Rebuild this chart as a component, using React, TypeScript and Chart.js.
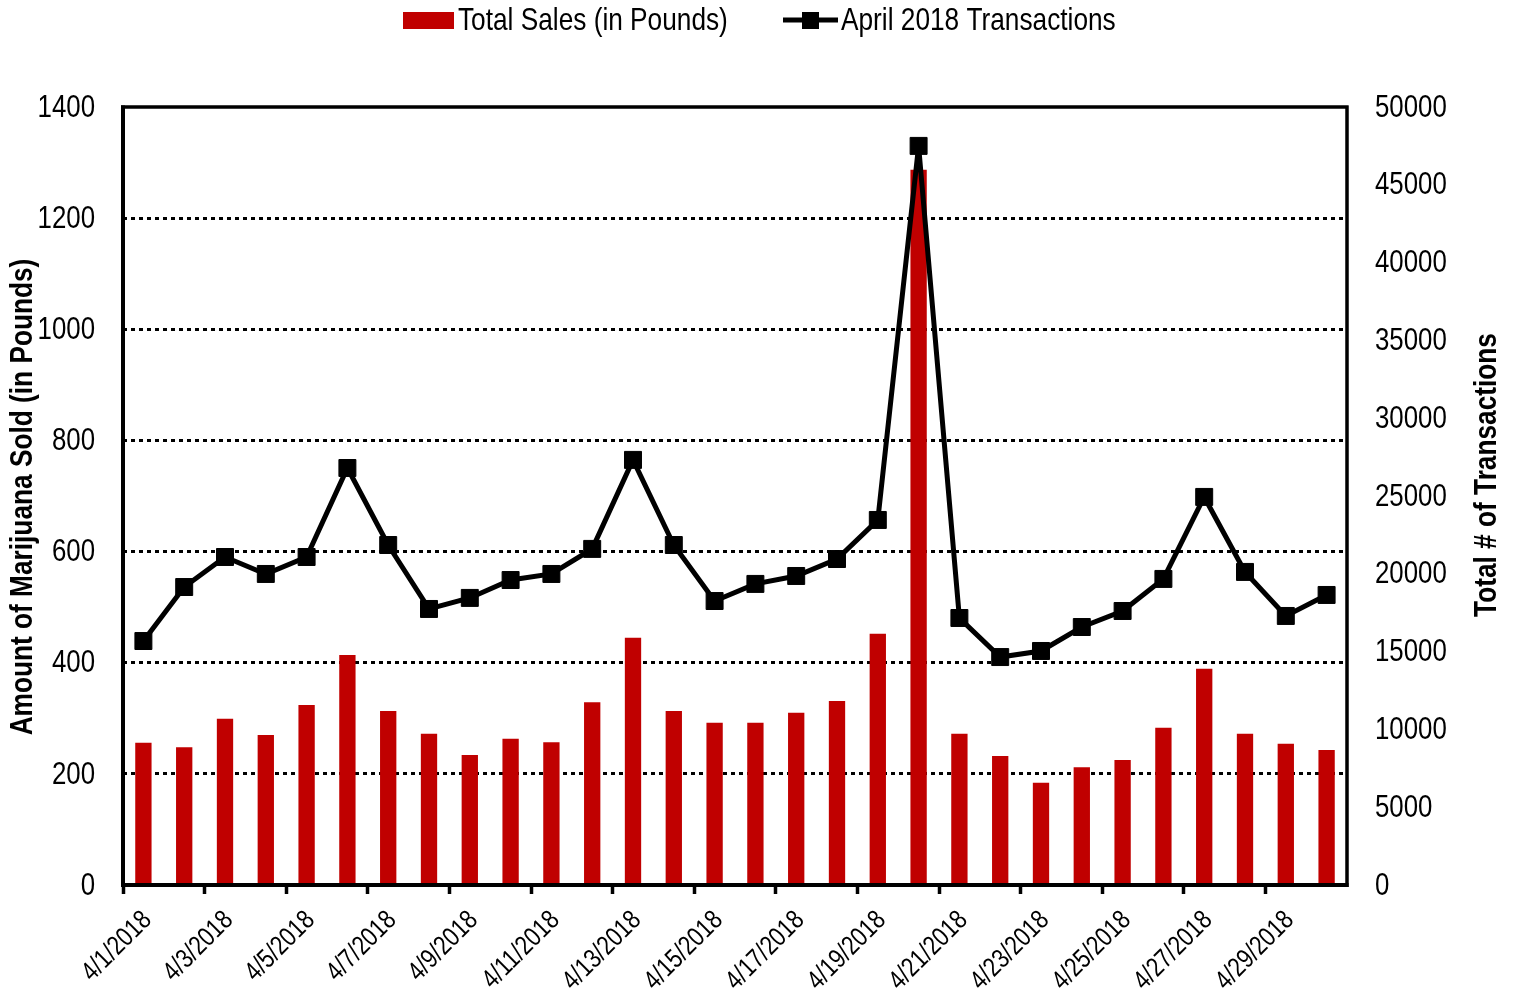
import React, { useEffect, useRef } from "react";
import { Chart, registerables } from "chart.js";

Chart.register(...registerables);

const dates = [
  "4/1/2018", "4/2/2018", "4/3/2018", "4/4/2018", "4/5/2018", "4/6/2018",
  "4/7/2018", "4/8/2018", "4/9/2018", "4/10/2018", "4/11/2018", "4/12/2018",
  "4/13/2018", "4/14/2018", "4/15/2018", "4/16/2018", "4/17/2018", "4/18/2018",
  "4/19/2018", "4/20/2018", "4/21/2018", "4/22/2018", "4/23/2018", "4/24/2018",
  "4/25/2018", "4/26/2018", "4/27/2018", "4/28/2018", "4/29/2018", "4/30/2018",
];

const salesPounds = [
  256, 248, 299, 270, 324, 414, 313, 272, 234, 263, 257, 329, 445, 313, 292,
  292, 310, 331, 452, 1287, 272, 232, 184, 212, 225, 283, 389, 272, 254, 243,
];

const transactions = [
  15680, 19150, 21080, 19990, 21080, 26800, 21850, 17740, 18450, 19600, 19990,
  21600, 27320, 21850, 18250, 19350, 19860, 20950, 23460, 47500, 17160, 14650,
  15040, 16580, 17610, 19670, 24940, 20120, 17290, 18640,
];

const leftTicks = [0, 200, 400, 600, 800, 1000, 1200, 1400];
const rightTicks = [0, 5000, 10000, 15000, 20000, 25000, 30000, 35000, 40000, 45000, 50000];

const leftTitle = "Amount of Marijuana Sold (in Pounds)";
const rightTitle = "Total # of Transactions";
const salesLabel = "Total Sales (in Pounds)";
const txLabel = "April 2018 Transactions";

const FONT = "'Liberation Sans', Arial, sans-serif";
const RED = "#C00000";
const NARROW = 0.82;

function txt(
  ctx: CanvasRenderingContext2D,
  s: string,
  x: number,
  y: number,
  align: CanvasTextAlign,
  font: string,
  rot = 0
) {
  ctx.save();
  ctx.translate(x, y);
  if (rot) ctx.rotate(rot);
  ctx.scale(NARROW, 1);
  ctx.font = font;
  ctx.textAlign = align;
  ctx.textBaseline = "middle";
  ctx.fillStyle = "#000";
  ctx.fillText(s, 0, 0);
  ctx.restore();
}

const decorPlugin = {
  id: "decor",
  afterDraw(chart: any) {
    const { ctx } = chart;
    const { left, right, top, bottom } = chart.chartArea;
    ctx.save();
    ctx.strokeStyle = "#000";
    ctx.lineCap = "butt";
    // frame
    ctx.lineWidth = 4;
    ctx.beginPath();
    ctx.moveTo(left, top - 1.5);
    ctx.lineTo(left, bottom + 2);
    ctx.moveTo(left - 2, bottom);
    ctx.lineTo(right + 1.5, bottom);
    ctx.stroke();
    ctx.lineWidth = 3.5;
    ctx.beginPath();
    ctx.moveTo(left - 2, top);
    ctx.lineTo(right + 1.5, top);
    ctx.moveTo(right, top - 1.5);
    ctx.lineTo(right, bottom + 2);
    ctx.stroke();

    // tick labels
    const tickFont = `31.5px ${FONT}`;
    const ys = chart.scales.y;
    const ys2 = chart.scales.y2;
    const xs = chart.scales.x;
    leftTicks.forEach((v) => txt(ctx, String(v), 95, ys.getPixelForValue(v) + 1, "right", tickFont));
    rightTicks.forEach((v) => txt(ctx, String(v), 1375, ys2.getPixelForValue(v) + 1, "left", tickFont));
    const xFont = `27px ${FONT}`;
    dates.forEach((d, i) => {
      if (i % 2 !== 0) return;
      const x = xs.getPixelForValue(i);
      txt(ctx, d, x + 4, bottom + 31, "right", xFont, -Math.PI / 4);
    });

    // legend
    ctx.fillStyle = RED;
    ctx.fillRect(403, 12, 51, 17);
    const legFont = `32px ${FONT}`;
    txt(ctx, salesLabel, 458, 21, "left", legFont);
    ctx.fillStyle = "#000";
    ctx.lineWidth = 5;
    ctx.beginPath();
    ctx.moveTo(783, 20);
    ctx.lineTo(838, 20);
    ctx.stroke();
    ctx.fillRect(802, 12, 17, 17);
    txt(ctx, txLabel, 841, 21, "left", legFont);

    // axis titles
    const titleFont = `bold 32px ${FONT}`;
    txt(ctx, leftTitle, 23, 497, "center", titleFont, -Math.PI / 2);
    txt(ctx, rightTitle, 1487, 475, "center", titleFont, -Math.PI / 2);
    ctx.restore();
  },
};

export default function App() {
  const ref = useRef<HTMLCanvasElement>(null);
  useEffect(() => {
    const canvas = ref.current!;
    const chart = new Chart(canvas, {
      type: "bar",
      data: {
        labels: dates,
        datasets: [
          {
            type: "line",
            label: txLabel,
            data: transactions,
            yAxisID: "y2",
            borderColor: "#000",
            backgroundColor: "#000",
            borderWidth: 5,
            pointStyle: "rect",
            pointRadius: 12,
            pointBorderWidth: 1,
            tension: 0,
            order: 0,
          } as any,
          {
            type: "bar",
            label: salesLabel,
            data: salesPounds,
            yAxisID: "y",
            backgroundColor: RED,
            borderWidth: 0,
            categoryPercentage: 1,
            barPercentage: 0.4,
            order: 1,
          },
        ],
      },
      options: {
        responsive: false,
        animation: false,
        layout: { padding: { top: 107, left: 0, right: 0, bottom: 0 } },
        plugins: { legend: { display: false }, tooltip: { enabled: false } },
        scales: {
          x: {
            offset: true,
            border: { display: false },
            grid: {
              offset: true,
              drawOnChartArea: false,
              drawTicks: true,
              tickLength: 9,
              tickWidth: 3.5,
              tickColor: (c: any) => (c.index % 2 === 0 ? "#000" : "rgba(0,0,0,0)"),
            },
            ticks: { autoSkip: false, display: false },
            afterFit: (s: any) => {
              s.height = 108;
            },
          },
          y: {
            position: "left",
            min: 0,
            max: 1400,
            border: { display: false, dash: [4, 4] },
            grid: {
              drawTicks: false,
              lineWidth: 3,
              color: (c: any) =>
                c.tick && (c.tick.value === 0 || c.tick.value === 1400) ? "rgba(0,0,0,0)" : "#000",
            },
            ticks: { stepSize: 200, display: false },
            afterFit: (s: any) => {
              s.width = 123;
            },
          },
          y2: {
            position: "right",
            min: 0,
            max: 50000,
            border: { display: false },
            grid: { display: false, drawTicks: false },
            ticks: { stepSize: 5000, display: false },
            afterFit: (s: any) => {
              s.width = 168;
            },
          },
        },
      },
      plugins: [decorPlugin],
    });
    return () => chart.destroy();
  }, []);
  return (
    <div style={{ position: "fixed", left: 0, top: 0, width: 1515, height: 993, background: "#fff" }}>
      <canvas ref={ref} width={1515} height={993} style={{ width: 1515, height: 993 }} />
    </div>
  );
}
